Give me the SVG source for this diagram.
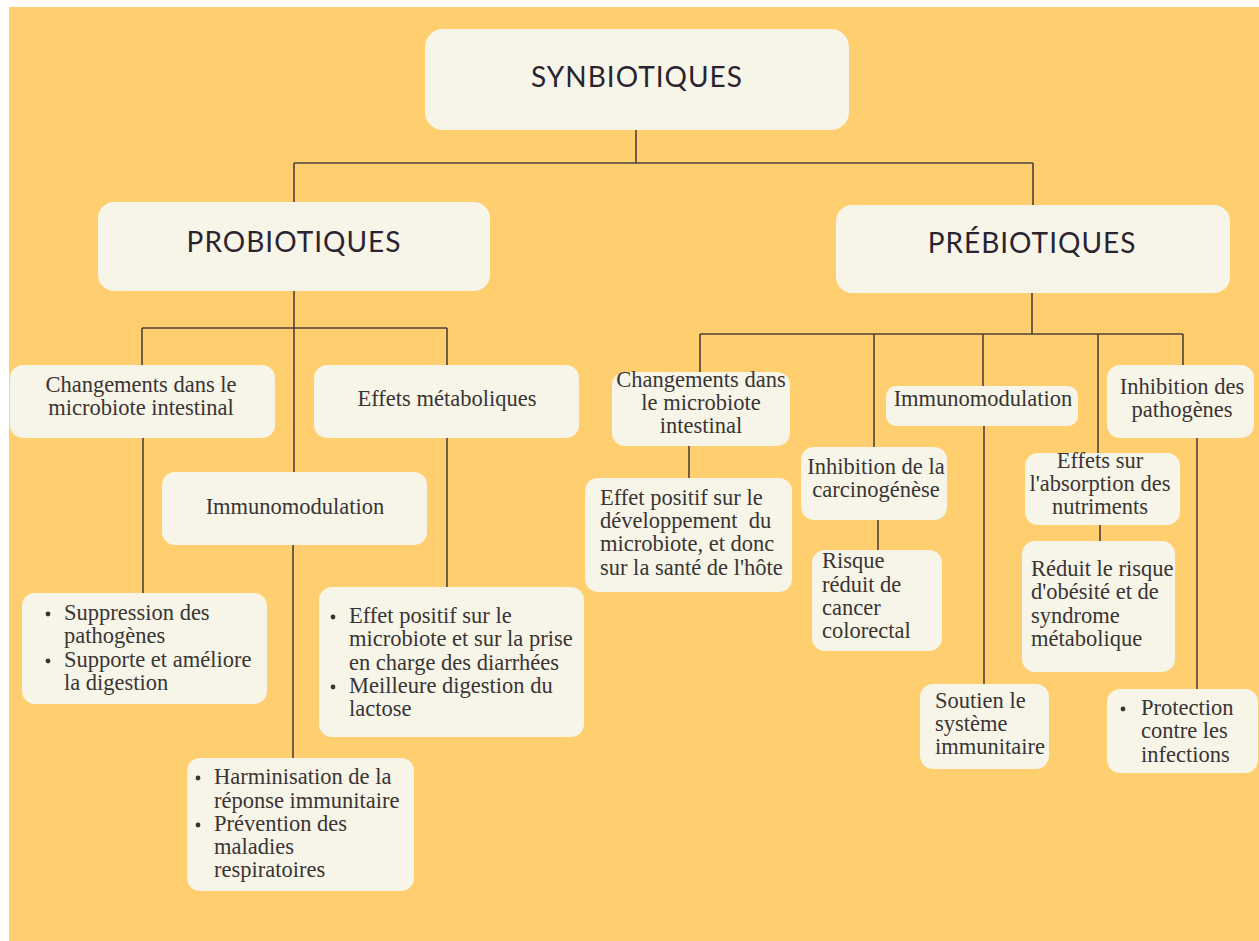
<svg xmlns="http://www.w3.org/2000/svg" width="1259" height="941" viewBox="0 0 1259 941">
<style>
.box{fill:#F6F5E8;}
.t{font-family:"Lato","Noto Sans",sans-serif;font-size:28px;fill:#2b2330;letter-spacing:1px;text-anchor:middle;}
.b{font-family:"Liberation Serif","Times New Roman",serif;font-size:22.5px;fill:#3a3434;}
.c{text-anchor:middle;}
.ln{stroke:#4d4238;stroke-width:1.6;fill:none;}
.dot{fill:#3a3434;}
</style>
<rect x="0" y="0" width="1259" height="941" fill="#ffffff"/>
<rect x="9" y="7" width="1250" height="934" fill="#FFCE6E"/>

<g id="connectors">
<path class="ln" d="M636,130 V163 M294,163 H1033 M294,163 V202 M1033,163 V205"/>
<path class="ln" d="M294,291 V472 M142,328 H447 M142,328 V365 M447,328 V365"/>
<path class="ln" d="M143,438 V593 M447,438 V587 M293,545 V758"/>
<path class="ln" d="M1032,293 V334 M700,334 H1183 M700,334 V372 M874,334 V447 M983,334 V386 M1098,334 V453 M1183,334 V365"/>
<path class="ln" d="M689,446 V478 M878,520 V550 M984,426 V684 M1100,525 V541 M1197,438 V689"/>
</g>

<g id="synbiotiques">
<rect class="box" x="425" y="29" width="424" height="101" rx="18"/>
<text class="t" x="637" y="87">SYNBIOTIQUES</text>
</g>
<g id="probiotiques">
<rect class="box" x="98" y="202" width="392" height="89" rx="16"/>
<text class="t" x="294" y="252">PROBIOTIQUES</text>
</g>
<g id="prebiotiques">
<rect class="box" x="836" y="205" width="394" height="88" rx="16"/>
<text class="t" x="1032" y="253">PRÉBIOTIQUES</text>
</g>

<g id="pro-changements">
<rect class="box" x="10" y="365" width="265" height="73" rx="13"/>
<text class="b c" x="141" y="392">Changements dans le</text>
<text class="b c" x="141" y="415">microbiote intestinal</text>
</g>
<g id="pro-effets">
<rect class="box" x="314" y="365" width="265" height="73" rx="13"/>
<text class="b c" x="447" y="406">Effets métaboliques</text>
</g>
<g id="pro-immuno">
<rect class="box" x="162" y="472" width="265" height="73" rx="13"/>
<text class="b c" x="295" y="514">Immunomodulation</text>
</g>
<g id="pro-bullets1">
<rect class="box" x="22" y="593" width="245" height="111" rx="13"/>
<circle class="dot" cx="48" cy="614" r="2.4"/>
<circle class="dot" cx="48" cy="661" r="2.4"/>
<text class="b" x="64" y="620">Suppression des</text>
<text class="b" x="64" y="643">pathogènes</text>
<text class="b" x="64" y="667">Supporte et améliore</text>
<text class="b" x="64" y="690">la digestion</text>
</g>
<g id="pro-bullets2">
<rect class="box" x="319" y="587" width="265" height="150" rx="13"/>
<circle class="dot" cx="333" cy="617" r="2.4"/>
<circle class="dot" cx="333" cy="687" r="2.4"/>
<text class="b" x="349" y="623">Effet positif sur le</text>
<text class="b" x="349" y="646">microbiote et sur la prise</text>
<text class="b" x="349" y="670">en charge des diarrhées</text>
<text class="b" x="349" y="693">Meilleure digestion du</text>
<text class="b" x="349" y="716">lactose</text>
</g>
<g id="pro-bullets3">
<rect class="box" x="187" y="758" width="227" height="133" rx="13"/>
<circle class="dot" cx="198" cy="778" r="2.4"/>
<circle class="dot" cx="198" cy="825" r="2.4"/>
<text class="b" x="214" y="784">Harminisation de la</text>
<text class="b" x="214" y="808">réponse immunitaire</text>
<text class="b" x="214" y="831">Prévention des</text>
<text class="b" x="214" y="854">maladies</text>
<text class="b" x="214" y="877">respiratoires</text>
</g>

<g id="pre-changements">
<rect class="box" x="612" y="372" width="178" height="74" rx="13"/>
<text class="b c" x="701" y="387">Changements dans</text>
<text class="b c" x="701" y="410">le microbiote</text>
<text class="b c" x="701" y="433">intestinal</text>
</g>
<g id="pre-effet-positif">
<rect class="box" x="585" y="478" width="207" height="114" rx="13"/>
<text class="b" x="600" y="505">Effet positif sur le</text>
<text class="b" x="600" y="528" xml:space="preserve">développement  du</text>
<text class="b" x="600" y="551">microbiote, et donc</text>
<text class="b" x="600" y="575">sur la santé de l'hôte</text>
</g>
<g id="pre-carcino">
<rect class="box" x="801" y="447" width="146" height="73" rx="13"/>
<text class="b c" x="876" y="474">Inhibition de la</text>
<text class="b c" x="876" y="497">carcinogénèse</text>
</g>
<g id="pre-risque">
<rect class="box" x="812" y="550" width="130" height="101" rx="13"/>
<text class="b" x="822" y="568">Risque</text>
<text class="b" x="822" y="592">réduit de</text>
<text class="b" x="822" y="615">cancer</text>
<text class="b" x="822" y="638">colorectal</text>
</g>
<g id="pre-immuno">
<rect class="box" x="886" y="386" width="192" height="40" rx="10"/>
<text class="b c" x="983" y="406">Immunomodulation</text>
</g>
<g id="pre-soutien">
<rect class="box" x="920" y="684" width="129" height="85" rx="13"/>
<text class="b" x="935" y="708">Soutien le</text>
<text class="b" x="935" y="731">système</text>
<text class="b" x="935" y="754">immunitaire</text>
</g>
<g id="pre-absorption">
<rect class="box" x="1025" y="453" width="155" height="72" rx="13"/>
<text class="b c" x="1100" y="468">Effets sur</text>
<text class="b c" x="1100" y="491">l'absorption des</text>
<text class="b c" x="1100" y="514">nutriments</text>
</g>
<g id="pre-obesite">
<rect class="box" x="1022" y="541" width="153" height="131" rx="13"/>
<text class="b" x="1031" y="576">Réduit le risque</text>
<text class="b" x="1031" y="599">d'obésité et de</text>
<text class="b" x="1031" y="623">syndrome</text>
<text class="b" x="1031" y="646">métabolique</text>
</g>
<g id="pre-inhibition">
<rect class="box" x="1107" y="365" width="147" height="73" rx="13"/>
<text class="b c" x="1182" y="394">Inhibition des</text>
<text class="b c" x="1182" y="417">pathogènes</text>
</g>
<g id="pre-protection">
<rect class="box" x="1107" y="689" width="151" height="84" rx="13"/>
<circle class="dot" cx="1123" cy="709" r="2.4"/>
<text class="b" x="1141" y="715">Protection</text>
<text class="b" x="1141" y="738">contre les</text>
<text class="b" x="1141" y="762">infections</text>
</g>
</svg>
